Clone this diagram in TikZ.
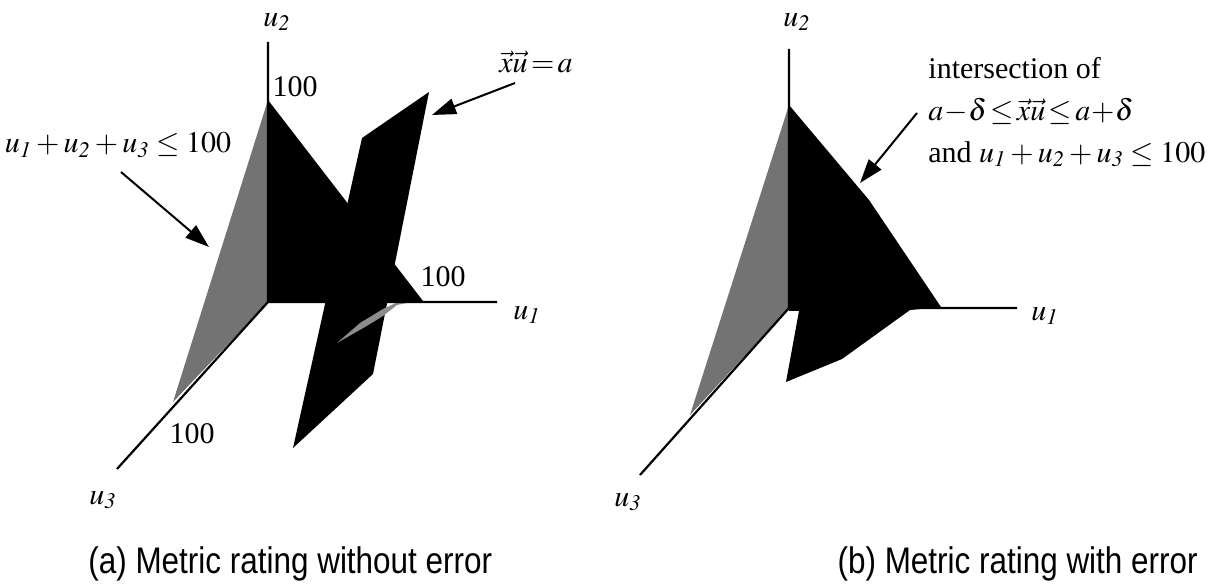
\documentclass[tikz,border=0pt]{standalone}
\usepackage{mathptmx}
\usepackage{fontspec}
\setmainfont{Liberation Serif}
\newfontfamily\capfont[FakeStretch=0.85]{Liberation Sans}
\usetikzlibrary{arrows.meta}

\begin{document}
\begin{tikzpicture}[x=0.5pt,y=-0.5pt,font=\fontsize{15}{21}\selectfont,
 axis/.style={line width=1.1pt},
 face/.style={fill=black!55},
 cut/.style={fill=black},
 lbl/.style={inner sep=0pt},
 arr/.style={-{Triangle[length=12pt,width=8pt]},line width=1pt},
 subcap/.style={font=\capfont\fontsize{18.5}{20}\selectfont,inner sep=0pt}]
\useasboundingbox (0,0) rectangle (1215,587);
% (a) metric rating without error
\coordinate (oa) at (268,302);
\coordinate (a1) at (497,302);\coordinate (a2) at (268,42);\coordinate (a3) at (117,469);
\fill[face] (268,100) -- (oa) -- (173,402) -- cycle;
\fill[cut] (268,100) -- (423,301) -- (oa) -- cycle;
\fill[cut] (429,92) -- (362,138) -- (293,448) -- (373,374) -- cycle;
\fill[black!45] (337,343) -- (365,327) -- (383,316) -- (397,305) -- (412,302) -- (398,302) -- (383,309) -- (360,323) -- cycle;
\draw[axis] (a2) -- (oa) -- (a1) (oa) -- (a3);
\node[lbl] (u2a) at (277,22) {$u_{\mathit{2}}$};
\node[lbl] (u1a) at (527,315) {$u_{\mathit{1}}$};
\node[lbl] (u3a) at (103,500) {$u_{\mathit{3}}$};
\node[lbl] (h2a) at (295,87) {100};
\node[lbl] (h1a) at (443,277) {100};
\node[lbl] (h3a) at (192,434) {100};
\node[lbl] (sum) at (118,145) {$u_{\mathit{1}}+u_{\mathit{2}}+u_{\mathit{3}}\le 100$};
\node[lbl] (xua) at (536,62) {$\vec{x}\vec{u}\!=\!a$};
\coordinate (s1) at (121,172);\coordinate (t1) at (209,247);
\coordinate (s2) at (515,83);\coordinate (t2) at (432,115);
\draw[arr] (s1) -- (t1);
\draw[arr] (s2) -- (t2);
% (b) metric rating with error
\coordinate (ob) at (789,308);
\coordinate (b1) at (1017,308);\coordinate (b2) at (789,49);\coordinate (b3) at (640,475);
\fill[face] (789,105) -- (ob) -- (690,415) -- cycle;
\fill[cut] (789,105) -- (869,200) -- (941,307) -- (910,310) -- (842,359) -- (786,382) -- (799,311) -- (789,311) -- cycle;
\draw[axis] (b2) -- (ob) -- (b1) (ob) -- (b3);
\node[lbl] (u2b) at (797,22) {$u_{\mathit{2}}$};
\node[lbl] (u1b) at (1045,316) {$u_{\mathit{1}}$};
\node[lbl] (u3b) at (628,502) {$u_{\mathit{3}}$};
\node[lbl,anchor=west,align=left] (both) at (928,112) {intersection of\\
 $a\!-\!\delta\!\le\!\vec{x}\vec{u}\!\le\! a\!+\!\delta$\\
 and $u_{\mathit{1}}+u_{\mathit{2}}+u_{\mathit{3}}\le 100$};
\coordinate (s3) at (917,113);\coordinate (t3) at (860,183);
\draw[arr] (s3) -- (t3);
\node[subcap,anchor=base west] (capa) at (88,573) {(a) Metric rating without error};
\node[subcap,anchor=base east] (capb) at (1198,573) {(b) Metric rating with error};
\end{tikzpicture}
\end{document}
